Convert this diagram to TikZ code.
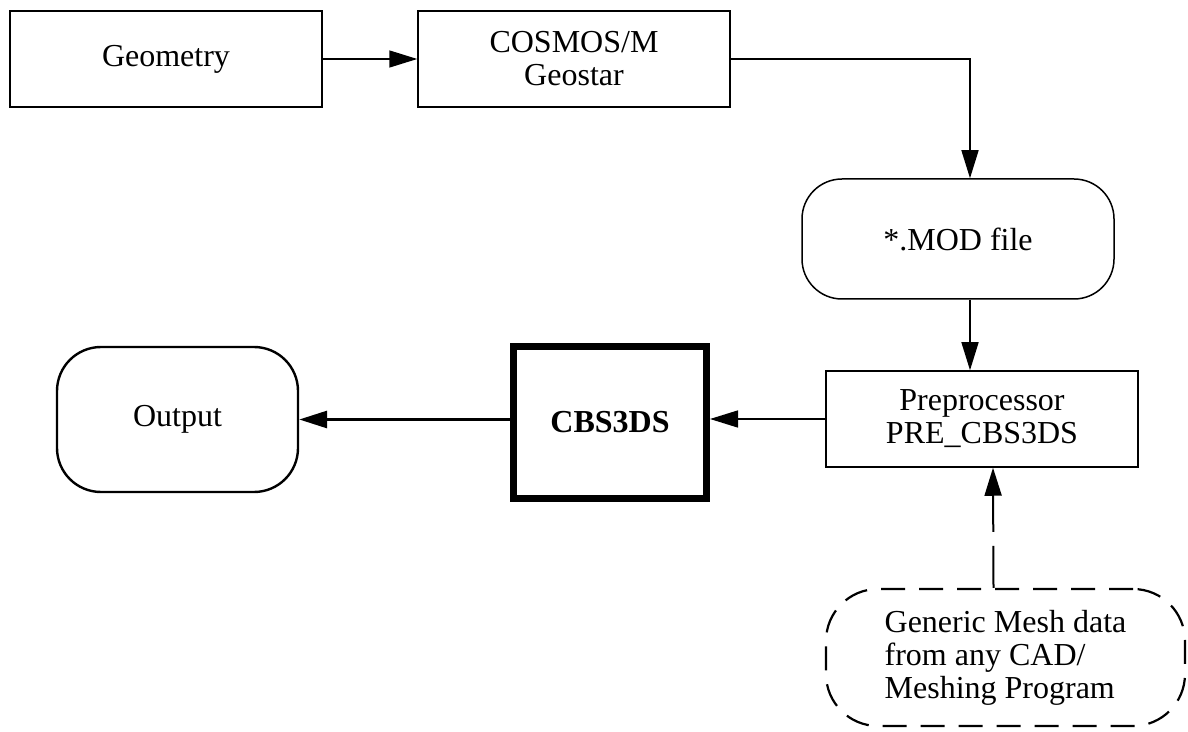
\documentclass[tikz,border=0pt]{standalone}
\usepackage{fontspec}
\setmainfont{Liberation Serif}
\usetikzlibrary{arrows.meta}

\begin{document}
\begin{tikzpicture}[x=0.5pt,y=-0.5pt,
                    line width=0.75pt,
                    >={Triangle[length=14pt,width=8.5pt]},
                    font=\fontsize{16}{16.5}\selectfont]
    \tikzstyle{block}=[draw,rectangle,minimum width=156pt,minimum height=48pt,inner sep=2pt,align=center]
    \tikzstyle{terminal}=[block,rounded corners=20pt,minimum height=60pt]
    \tikzstyle{solver}=[block,line width=3.5pt,minimum width=96.5pt,minimum height=76pt,font=\fontsize{16}{16.5}\selectfont\bfseries]
    \tikzstyle{external}=[terminal,dashed,dash pattern=on 12pt off 7pt,line width=1.1pt,align=left,
                          rounded corners=26pt,minimum width=179.5pt,minimum height=68.5pt]

    \useasboundingbox (0,0) rectangle (1188,732);

    \node[block] (geom) at (166,59) {Geometry};
    \node[block] (cosmos) at (574,59) {COSMOS/M\\Geostar};
    \node[terminal] (mod) at (958,239) {*.MOD file};
    \node[block] (prepro) at (982,419) {Preprocessor\\PRE\_CBS3DS};
    \node[solver] (cbs) at (610,422.5) {CBS3DS};
    \node[terminal,line width=1.2pt,minimum width=120.5pt,minimum height=72.5pt,rounded corners=22pt] (output) at (177.5,419.5) {Output};
    \node[external] (generic) at (1005.5,657.5) {Generic Mesh data\\from any CAD/\\Meshing Program};

    \draw[->] (geom.east) -- (cosmos.west);
    \draw[->] (cosmos.east) -| ([xshift=6pt]mod.north);
    \draw[->] ([xshift=6pt]mod.south) -- ([xshift=-6pt]prepro.north);
    \draw[->] (prepro.west) -- (prepro.west -| cbs.east);
    \draw[->,line width=1.5pt] (cbs.west |- output.east) -- (output.east);
    \draw[->,dash pattern=on 21pt off 7pt,line width=1pt] ([xshift=-6pt]generic.north) -- ([xshift=5.5pt]prepro.south);

\end{tikzpicture}
\end{document}
